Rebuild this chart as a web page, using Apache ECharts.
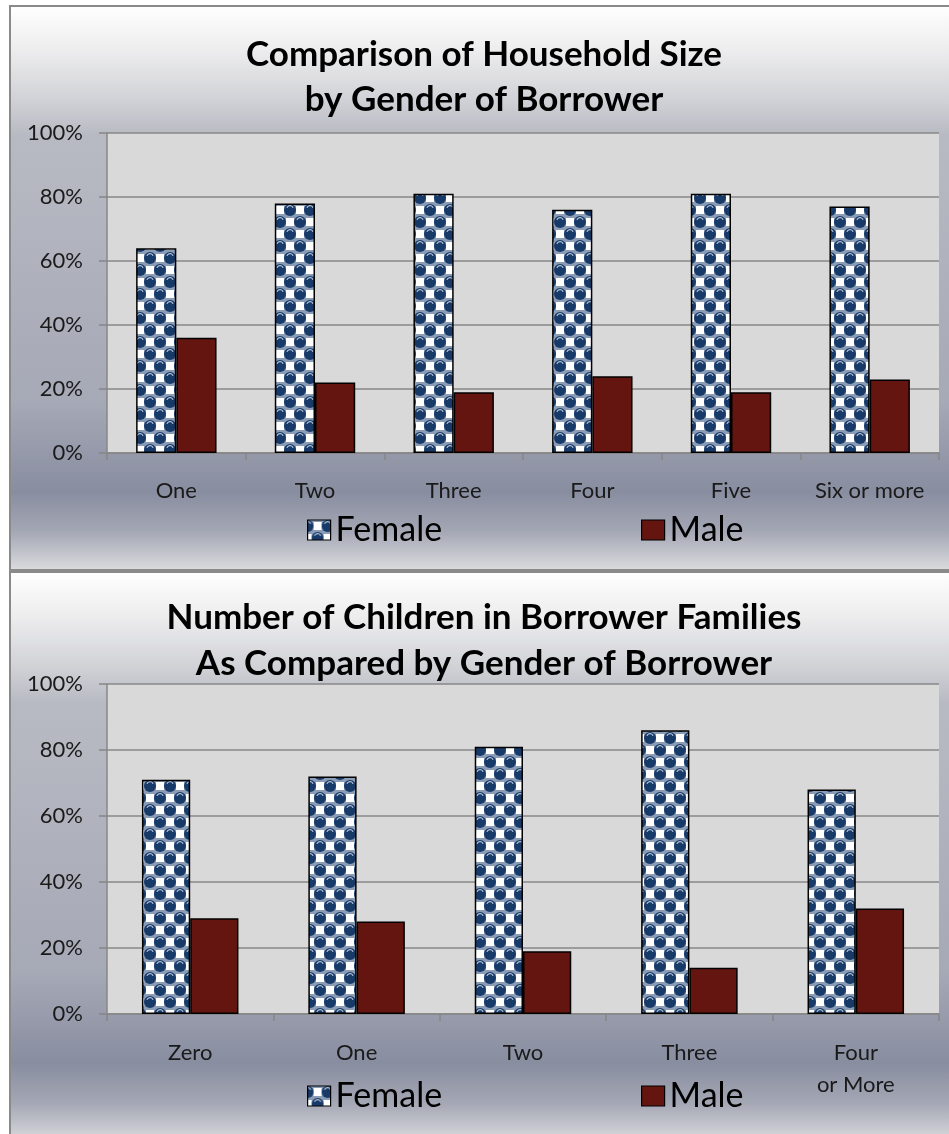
<!DOCTYPE html>
<html>
<head>
<meta charset="utf-8">
<script src="https://cdn.jsdelivr.net/npm/echarts@6.0.0/dist/echarts.min.js"></script>
<style>
  html, body { margin: 0; padding: 0; background: #ffffff; }
  #chart { width: 949px; height: 1134px; }
</style>
</head>
<body>
<div id="chart"></div>
<script>
// Household size shares (percent of borrowers) by gender
const sizeCategories = ['One', 'Two', 'Three', 'Four', 'Five', 'Six or more'];
const sizeFemale = [64, 78, 81, 76, 81, 77];
const sizeMale = [36, 22, 19, 24, 19, 23];

// Number of children shares (percent of borrowers) by gender
const childCategories = ['Zero', 'One', 'Two', 'Three', 'Four\nor More'];
const childFemale = [71, 72, 81, 86, 68];
const childMale = [29, 28, 19, 14, 32];

const seriesNames = ['Female', 'Male'];
const chartTitles = [
  'Comparison of Household Size\nby Gender of Borrower',
  'Number of Children in Borrower Families\nAs Compared by Gender of Borrower'
];

const FONT = 'Lato, "Open Sans", sans-serif';
const GRID_LINE = '#878787';
const MALE_COLOR = '#641510';

// Navy checker texture with white squares used for the Female bars
function makeChecker() {
  const c = document.createElement('canvas');
  c.width = 20; c.height = 24;
  const g = c.getContext('2d');
  g.fillStyle = '#8a9cb6';
  g.fillRect(0, 0, 20, 24);
  const circle = (x, y) => {
    g.beginPath(); g.arc(x, y, 6.0, 0, Math.PI * 2);
    g.fillStyle = '#183a68'; g.fill();
    g.beginPath(); g.arc(x, y - 1.2, 3.2, Math.PI * 1.1, Math.PI * 1.9);
    g.strokeStyle = '#b8c6da'; g.lineWidth = 1.2; g.stroke();
  };
  const square = (x, y) => {
    g.fillStyle = '#ffffff';
    g.fillRect(x - 4, y - 4, 8, 8);
  };
  [0, 20].forEach(x => circle(x, 6));
  circle(10, 18);
  [0, 20].forEach(x => circle(x, 30));
  circle(10, -6);
  [0, 20].forEach(x => square(x, 18));
  square(10, 6);
  return c;
}
const femaleFill = { image: makeChecker(), repeat: 'repeat' };

// Panel background: white at the top, steel grey near the labels, lighter at the foot
function panelGradient() {
  return new echarts.graphic.LinearGradient(0, 0, 0, 1, [
    { offset: 0.00, color: '#ffffff' },
    { offset: 0.08, color: '#ededee' },
    { offset: 0.17, color: '#d0d1d6' },
    { offset: 0.23, color: '#b8bac3' },
    { offset: 0.70, color: '#a6a9b6' },
    { offset: 0.86, color: '#888da0' },
    { offset: 0.93, color: '#a4a7b4' },
    { offset: 1.00, color: '#dcdde0' }
  ]);
}

const panels = [
  { top: 6, height: 564, gridTop: 133, gridHeight: 320, titleTop: 32, titleLH: 45, legendTop: 513, labelMargin: 22, cats: sizeCategories, f: sizeFemale, m: sizeMale },
  { top: 572, height: 570, gridTop: 684, gridHeight: 330, titleTop: 595, titleLH: 46, legendTop: 1079, labelMargin: 23, cats: childCategories, f: childFemale, m: childMale }
];

const option = {
  animation: false,
  graphic: panels.map(p => ({
    type: 'rect',
    z: -100,
    shape: { x: 10, y: p.top, width: 960, height: p.height },
    style: { fill: panelGradient(), stroke: '#8a8a8a', lineWidth: 2 }
  })),
  title: panels.map((p, i) => ({
    text: chartTitles[i],
    left: 484,
    top: p.titleTop,
    textAlign: 'center',
    padding: 0,
    textStyle: { fontFamily: FONT, fontSize: 35, fontWeight: 'bold', color: '#000', lineHeight: p.titleLH }
  })),
  legend: panels.flatMap(p => [
    { name: 'Female', left: 307 },
    { name: 'Male', left: 641 }
  ].map(l => ({
    data: [l.name],
    left: l.left,
    top: p.legendTop,
    padding: 0,
    itemWidth: 23,
    itemHeight: 20,
    icon: 'rect',
    selectedMode: false,
    itemStyle: { borderColor: '#000', borderWidth: 1.2 },
    textStyle: { fontFamily: FONT, fontSize: 34, color: '#000' }
  }))),
  grid: panels.map(p => ({
    left: 107, right: 10, top: p.gridTop, height: p.gridHeight,
    show: true, backgroundColor: '#d9d9d9', borderWidth: 0
  })),
  xAxis: panels.map((p, i) => ({
    type: 'category',
    gridIndex: i,
    data: p.cats,
    axisLine: { lineStyle: { color: GRID_LINE, width: 1.5 } },
    axisTick: { show: true, length: 7, lineStyle: { color: GRID_LINE, width: 1.5 } },
    axisLabel: { interval: 0, fontFamily: FONT, fontSize: 22, color: '#1a1a1a', margin: p.labelMargin, lineHeight: 32 }
  })),
  yAxis: panels.map((p, i) => ({
    type: 'value',
    gridIndex: i,
    min: 0, max: 100, interval: 20,
    axisLine: { show: true, lineStyle: { color: GRID_LINE, width: 1.5 } },
    axisTick: { show: true, length: 8, lineStyle: { color: GRID_LINE, width: 1.5 } },
    splitLine: { show: true, lineStyle: { color: GRID_LINE, width: 1.5 } },
    axisLabel: { fontFamily: FONT, fontSize: 22, color: '#1a1a1a', margin: 24, formatter: '{value}%' }
  })),
  series: panels.flatMap((p, i) => [
    {
      name: seriesNames[0], type: 'bar', xAxisIndex: i, yAxisIndex: i,
      data: p.f, barGap: '0%', barCategoryGap: '42%',
      itemStyle: { color: femaleFill, borderColor: '#000', borderWidth: 1.5 }
    },
    {
      name: seriesNames[1], type: 'bar', xAxisIndex: i, yAxisIndex: i,
      data: p.m, barGap: '0%', barCategoryGap: '42%',
      itemStyle: { color: MALE_COLOR, borderColor: '#000', borderWidth: 1.5 }
    }
  ])
};

const chart = echarts.init(document.getElementById('chart'), null, { renderer: 'canvas' });
chart.setOption(option);
</script>
</body>
</html>
